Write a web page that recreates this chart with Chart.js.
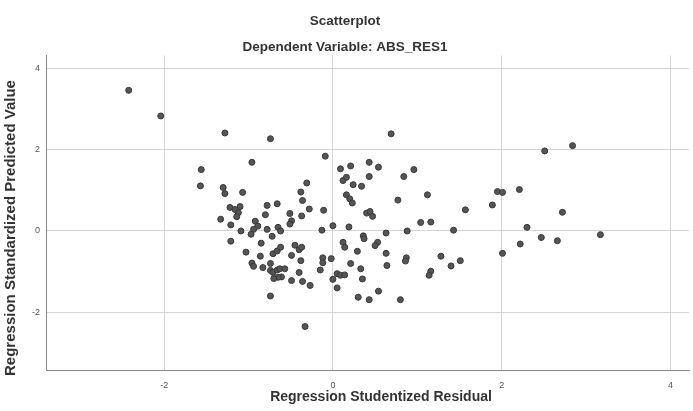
<!DOCTYPE html>
<html>
<head>
<meta charset="utf-8">
<script src="https://cdn.jsdelivr.net/npm/chart.js@4.4.1/dist/chart.umd.min.js"></script>
<style>
  html, body { margin: 0; padding: 0; background: #ffffff; }
  #wrap { width: 693px; height: 411px; position: relative; }
</style>
</head>
<body>
<div id="wrap"><canvas id="c" width="693" height="411"></canvas></div>
<script>
const chartTitle = "Scatterplot";
const chartSubtitle = "Dependent Variable: ABS_RES1";
const xAxisTitle = "Regression Studentized Residual";
const yAxisTitle = "Regression Standardized Predicted Value";
const xTicks = [-2, 0, 2, 4];
const yTicks = [-2, 0, 2, 4];

const residuals = [
  -2.42, -2.04, -1.28, -0.74, -0.96, -1.56, -1.57, -1.30, -1.28, -1.07,
  -0.31, -0.38, -0.36, -0.09, -0.78, -0.66, -1.22, -1.16, -1.10, -1.12,
  -1.14, -1.33, -0.80, -0.51, -0.49, -0.51, -0.37, -0.28, -0.11, -1.21,
  -0.92, -0.89, -0.94, -0.97, -0.78, -0.72, -0.65, -0.62, -1.09, -0.13,
   0.00, -1.21, -0.85, -1.03, -0.86, -0.71, -0.66, -0.62, -0.45, -0.40,
  -0.37, -0.49, -0.38, -0.96, -0.94, -0.83, -0.74, -0.74, -0.71, -0.66,
  -0.63, -0.57, -0.61, -0.65, -0.70, -0.49, -0.40, -0.36, -0.27, -0.12,
  -0.12, -0.02, -0.15,  0.00, -0.74, -0.33,
   0.09,  0.21,  0.43,  0.54,  0.12,  0.16,  0.24,  0.34,  0.43,  0.84,
   0.96,  0.16,  0.20,  0.23,  0.77,  1.12,  0.40,  0.44,  0.47,  1.04,
   1.16,  0.19,  0.63,  0.88,  0.36,  0.37,  0.12,  0.14,  0.29,  0.53,
   0.50,  0.63,  0.64,  0.87,  0.86,  0.21,  0.33,  0.35,  0.05,  0.09,
   0.14,  0.05,  0.30,  0.43,  0.54,  0.80,  1.16,  1.14,  1.28,  1.40,
   1.51,  1.43,  1.57,  0.69,  1.89,  1.95,  2.01,  2.21,  2.51,  2.84,
   2.72,  2.30,  2.47,  2.66,  3.17,  2.22,  2.01
];
const predicted = [
   3.46,  2.83,  2.41,  2.27,  1.69,  1.51,  1.11,  1.07,  0.92,  0.95,
   1.18,  0.96,  0.75,  1.84,  0.63,  0.67,  0.58,  0.53,  0.60,  0.45,
   0.35,  0.29,  0.40,  0.43,  0.25,  0.17,  0.37,  0.54,  0.51,  0.15,
   0.24,  0.12,  0.04, -0.08,  0.04, -0.13,  0.09,  0.00,  0.00,  0.02,
   0.13, -0.25, -0.30, -0.52, -0.62, -0.56, -0.49, -0.40, -0.35, -0.46,
  -0.40, -0.60, -0.73, -0.79, -0.87, -0.90, -0.80, -0.97, -1.02, -0.96,
  -0.93, -0.93, -1.13, -1.14, -1.17, -1.22, -1.02, -1.24, -1.34, -0.66,
  -0.78, -0.68, -0.96, -1.19, -1.60, -2.35,
   1.53,  1.60,  1.69,  1.57,  1.24,  1.32,  1.14,  1.10,  1.34,  1.34,
   1.51,  0.89,  0.79,  0.69,  0.76,  0.89,  0.44,  0.48,  0.36,  0.21,
   0.22,  0.10, -0.05,  0.00, -0.12, -0.19, -0.28, -0.40, -0.50, -0.28,
  -0.36, -0.55, -0.85, -0.66, -0.74, -0.80, -0.93, -1.18, -1.05, -1.09,
  -1.08, -1.40, -1.63, -1.69, -1.48, -1.69, -0.99, -1.09, -0.62, -0.86,
  -0.73,  0.02,  0.52,  2.39,  0.64,  0.97,  0.95,  1.02,  1.97,  2.10,
   0.46,  0.09, -0.16, -0.24, -0.09, -0.32, -0.55
];

const points = residuals.map((x, i) => ({ x: x, y: predicted[i] }));
const FONT = "'Liberation Sans', Arial, sans-serif";

// Draws the two axis titles (SPSS places them slightly off the axis centre).
const axisTitles = {
  id: 'axisTitles',
  afterDraw(chart) {
    const ctx = chart.ctx;
    ctx.save();
    ctx.fillStyle = '#333333';
    ctx.font = 'bold 14px ' + FONT;
    ctx.textAlign = 'center';
    ctx.textBaseline = 'middle';
    ctx.fillText(xAxisTitle, 381, 397);
    ctx.translate(11, 228);
    ctx.rotate(-Math.PI / 2);
    ctx.font = 'bold 15px ' + FONT;
    ctx.fillText(yAxisTitle, 0, 0);
    ctx.restore();
  }
};

new Chart(document.getElementById('c'), {
  type: 'scatter',
  data: {
    datasets: [{
      data: points,
      backgroundColor: '#555555',
      borderColor: '#383838',
      borderWidth: 1,
      pointRadius: 3,
      pointHoverRadius: 3
    }]
  },
  options: {
    responsive: false,
    animation: false,
    devicePixelRatio: 1,
    layout: { padding: { left: 0, right: 3, top: 0, bottom: 0 } },
    plugins: {
      legend: { display: false },
      tooltip: { enabled: false },
      title: {
        display: true,
        text: chartTitle,
        color: '#333333',
        font: { family: FONT, size: 13.5, weight: 'bold' },
        padding: { top: 13, bottom: 10 }
      },
      subtitle: {
        display: true,
        text: chartSubtitle,
        color: '#333333',
        font: { family: FONT, size: 13.5, weight: 'bold' },
        padding: { top: 0, bottom: 0 }
      }
    },
    scales: {
      x: {
        type: 'linear',
        min: -3.40,
        max: 4.22,
        afterFit: (s) => { s.height = 41; },
        afterBuildTicks: (s) => { s.ticks = xTicks.map(v => ({ value: v })); },
        grid: { color: '#d4d4d4', lineWidth: 1, drawTicks: false },
        border: { display: true, color: '#8a8a8a', width: 1 },
        ticks: {
          includeBounds: false,
          color: '#555555',
          padding: 10,
          font: { family: FONT, size: 9 },
          maxRotation: 0
        },
        title: { display: false }
      },
      y: {
        type: 'linear',
        min: -3.42,
        max: 4.32,
        afterFit: (s) => { s.width = 46; },
        afterBuildTicks: (s) => { s.ticks = yTicks.map(v => ({ value: v })); },
        grid: { color: '#d4d4d4', lineWidth: 1, drawTicks: false },
        border: { display: true, color: '#8a8a8a', width: 1 },
        ticks: {
          includeBounds: false,
          color: '#555555',
          padding: 6,
          font: { family: FONT, size: 9 }
        },
        title: { display: false }
      }
    }
  },
  plugins: [axisTitles]
});
</script>
</body>
</html>
